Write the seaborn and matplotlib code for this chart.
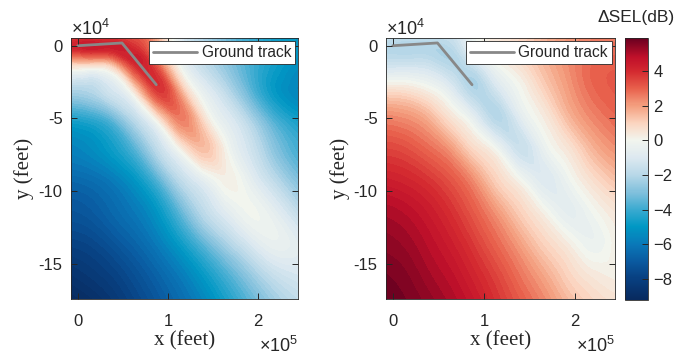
import numpy as np
import matplotlib
matplotlib.use("Agg")
import matplotlib.pyplot as plt
import matplotlib.tri as mtri
from matplotlib.colors import LinearSegmentedColormap, Normalize
from matplotlib.cm import ScalarMappable
import seaborn as sns
import pandas as pd

# Sample grid of the ΔSEL field (feet)
x_nodes = [-10000, 15000, 40000, 65000, 90000, 115000, 140000, 165000, 190000, 215000, 245000]
y_nodes = [6000, -3000, -12000, -31500, -51000, -71000, -91000,
           -113000, -135000, -156000, -176000]

# ΔSEL (dB), rows follow y_nodes, columns follow x_nodes
dsel_left = [
    [3.2, 3.6, 3.6, 3.2, 1.5, -1.0, -2.3, -3.3, -4.0, -4.6, -5.0],
    [4.0, 4.2, 4.2, 4.0, 1.8, -0.8, -2.0, -3.0, -3.9, -4.6, -5.1],
    [1.2, 1.2, 1.8, 4.2, 2.6, -0.4, -1.8, -2.8, -3.8, -4.6, -5.3],
    [-2.3, -2.1, -1.2, 0.8, 3.7, 1.6, -0.6, -1.9, -3.4, -4.8, -5.6],
    [-4.6, -4.3, -3.4, -1.8, 0.4, 2.5, 0.7, -0.8, -2.1, -3.6, -4.7],
    [-5.7, -5.4, -4.7, -3.5, -1.7, 0.2, 1.4, 0.0, -1.3, -2.7, -3.9],
    [-6.5, -6.3, -5.8, -4.9, -3.4, -1.7, -0.5, 0.2, -0.6, -1.8, -3.1],
    [-7.2, -7.0, -6.5, -5.9, -4.9, -3.3, -1.8, -0.7, -0.1, -0.6, -1.9],
    [-7.9, -7.7, -7.2, -6.6, -5.8, -4.7, -3.4, -2.2, -1.1, -0.4, -0.8],
    [-8.6, -8.3, -7.9, -7.3, -6.6, -5.8, -4.8, -3.7, -2.6, -1.6, -1.1],
    [-9.2, -8.9, -8.4, -7.8, -7.1, -6.4, -5.6, -4.6, -3.6, -2.6, -1.8],
]

dsel_right = [
    [-1.5, -1.8, -1.8, -1.5, -0.3, 0.3, 0.8, 1.5, 2.0, 2.4, 2.6],
    [-2.0, -2.1, -2.1, -2.0, -0.4, 0.5, 1.0, 1.6, 2.2, 2.6, 2.8],
    [-1.5, -1.5, -1.6, -2.1, -1.3, 0.0, 0.7, 1.5, 2.2, 2.8, 3.0],
    [0.8, 0.7, 0.2, -0.8, -2.1, -1.3, -0.1, 0.9, 1.9, 2.7, 3.1],
    [2.5, 2.3, 1.7, 0.6, -0.6, -2.0, -0.9, 0.2, 1.3, 2.2, 2.8],
    [3.5, 3.3, 2.8, 2.0, 0.8, -0.2, -1.5, -0.5, 0.4, 1.4, 2.2],
    [4.3, 4.1, 3.7, 3.1, 2.1, 0.9, -0.1, -0.9, -0.3, 0.6, 1.4],
    [5.0, 4.8, 4.4, 3.8, 3.0, 2.0, 1.0, 0.1, -0.6, -0.2, 0.5],
    [5.4, 5.2, 4.8, 4.3, 3.6, 2.8, 1.9, 1.0, 0.3, -0.3, 0.2],
    [5.7, 5.5, 5.1, 4.7, 4.1, 3.4, 2.6, 1.8, 1.0, 0.4, 0.2],
    [5.9, 5.7, 5.4, 5.0, 4.5, 3.8, 3.1, 2.4, 1.6, 1.0, 0.6],
]

# Ground track (feet)
track_x = [0, 49000, 87000]
track_y = [0, 1900, -26800]

x_ticks = [0, 100000, 200000]
x_tick_labels = ["0", "1", "2"]
y_ticks = [0, -50000, -100000, -150000]
y_tick_labels = ["0", "-5", "-10", "-15"]
cbar_ticks = [4, 2, 0, -2, -4, -6, -8]

vmin, vmax = -9.2, 5.9
xlim = (-7500, 244000)
ylim = (-174000, 5300)

sns.set_style("white")
plt.rcParams["font.family"] = ["Liberation Sans", "DejaVu Sans"]
plt.rcParams["mathtext.fontset"] = "custom"
plt.rcParams["mathtext.rm"] = "Liberation Sans"
plt.rcParams["mathtext.it"] = "Liberation Sans:italic"
plt.rcParams["axes.axisbelow"] = False

INK = "#262626"

# Diverging map: navy -> cyan -> white -> salmon -> dark red
anchors = [(-9.2, "#082a5e"), (-8.0, "#083f80"), (-7.0, "#0a5aa0"), (-6.0, "#0a78b8"),
           (-5.0, "#0098c4"), (-4.0, "#3aaad0"), (-3.0, "#80c0dc"), (-2.0, "#b8d8e8"),
           (-1.0, "#dce8f0"), (0.0, "#f2f5ee"), (1.0, "#fbd5c0"), (2.0, "#f4a080"),
           (3.0, "#e8604c"), (4.0, "#d42a30"), (4.8, "#c0102a"), (5.9, "#6a0020")]
cmap = LinearSegmentedColormap.from_list(
    "dsel", [((v - vmin) / (vmax - vmin), c) for v, c in anchors])
norm = Normalize(vmin=vmin, vmax=vmax)
levels = np.linspace(vmin, vmax, 76)

fig = plt.figure(figsize=(6.77, 3.6), dpi=100)
ax_l = fig.add_axes([71 / 677, 61 / 360, 227 / 677, 261 / 360])
ax_r = fig.add_axes([386 / 677, 61 / 360, 229 / 677, 261 / 360])
cax = fig.add_axes([625 / 677, 60 / 360, 23 / 677, 262 / 360])

# Grid triangulation with diagonals running upper-left to lower-right
nx, ny = len(x_nodes), len(y_nodes)
gx, gy = np.meshgrid(np.array(x_nodes, float), np.array(y_nodes, float))
tris = []
for i in range(ny - 1):
    for j in range(nx - 1):
        a, b = i * nx + j, i * nx + j + 1
        c, d = (i + 1) * nx + j, (i + 1) * nx + j + 1
        tris.append([a, d, b])
        tris.append([a, c, d])
tri = mtri.Triangulation(gx.ravel(), gy.ravel(), triangles=np.array(tris))
fx = np.linspace(xlim[0], xlim[1], 360)
fy = np.linspace(ylim[0], ylim[1], 360)
FX, FY = np.meshgrid(fx, fy)

track = pd.DataFrame({"x": track_x, "y": track_y})

for ax, field in [(ax_l, dsel_left), (ax_r, dsel_right)]:
    interp = mtri.CubicTriInterpolator(tri, np.array(field, float).ravel(), kind="min_E")
    Z = np.clip(interp(FX, FY), vmin, vmax)
    ax.contourf(FX, FY, Z, levels=levels, cmap=cmap, norm=norm, antialiased=False)
    sns.lineplot(data=track, x="x", y="y", sort=False, ax=ax, color="#888888",
                 linewidth=2.0, label="Ground track")
    ax.set_axisbelow(False)
    ax.set_xlim(*xlim)
    ax.set_ylim(*ylim)
    ax.set_xticks(x_ticks)
    ax.set_xticklabels(x_tick_labels)
    ax.set_yticks(y_ticks)
    ax.set_yticklabels(y_tick_labels)
    ax.tick_params(direction="in", bottom=True, left=True, top=True, right=True,
                   length=4, width=0.7, color=INK, labelcolor=INK, labelsize=12)
    ax.tick_params(axis="x", pad=11)
    ax.tick_params(axis="y", pad=6)
    for s in ax.spines.values():
        s.set_color(INK)
        s.set_linewidth(0.6)
        s.set_visible(True)
    ax.set_xlabel("x (feet)", family="Liberation Serif", fontsize=15, color=INK,
                  labelpad=1)
    ax.set_ylabel("y (feet)", family="Liberation Serif", fontsize=15, color=INK,
                  labelpad=3)
    leg = ax.legend(loc="upper right", fontsize=11.2, frameon=True, fancybox=False,
                    handlelength=2.8, handletextpad=0.3, borderpad=0.25,
                    borderaxespad=0.2, framealpha=1)
    leg.get_frame().set_edgecolor(INK)
    leg.get_frame().set_linewidth(0.6)
    for t in leg.get_texts():
        t.set_color(INK)
    ax.text(0.0, 0.995, r"$\times10^{4}$", transform=ax.transAxes, ha="left", va="bottom",
            fontsize=13, color=INK)
    ax.text(1.0, -0.14, r"$\times10^{5}$", transform=ax.transAxes, ha="right", va="top",
            fontsize=13, color=INK)

cb = fig.colorbar(ScalarMappable(norm=norm, cmap=cmap), cax=cax)
cax.set_axisbelow(False)
cb.set_ticks(cbar_ticks)
cb.ax.tick_params(direction="in", right=True, length=4, width=0.7, color=INK,
                  labelcolor=INK, labelsize=12, pad=4)
cb.outline.set_edgecolor(INK)
cb.outline.set_linewidth(0.6)
cax.text(0.5, 1.05, "ΔSEL(dB)", transform=cax.transAxes, ha="center", va="bottom",
         fontsize=12.5, color=INK)

fig.savefig("out.png", dpi=100)
